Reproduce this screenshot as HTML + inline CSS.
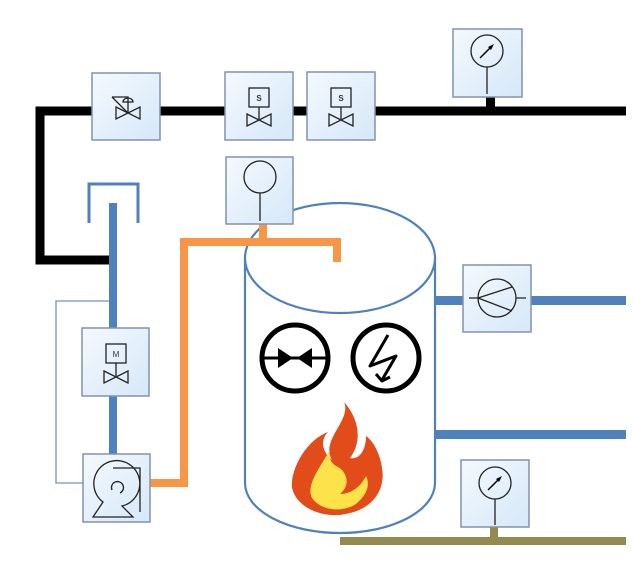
<!DOCTYPE html>
<html><head><meta charset="utf-8"><style>html,body{margin:0;padding:0;background:#fff}svg{display:block}</style></head><body>
<svg width="634" height="563" viewBox="0 0 634 563" xmlns="http://www.w3.org/2000/svg" font-family="Liberation Sans, sans-serif">
<defs>
<linearGradient id="bg" x1="0" y1="0" x2="1" y2="1"><stop offset="0" stop-color="#f4f9fe"/><stop offset="1" stop-color="#d6e8f8"/></linearGradient>
</defs>
<!-- black pipe -->
<path d="M626 111 H40 V260 H112" fill="none" stroke="#000" stroke-width="9"/>
<rect x="486" y="95" width="9" height="14" fill="#000"/>
<!-- blue thin loop -->
<path d="M110 301 H56 V483 H84" fill="none" stroke="#6f94c8" stroke-width="1.3"/>
<!-- blue vertical pipe -->
<rect x="109" y="203" width="8" height="252" fill="#4f81bd"/>
<!-- bracket -->
<path d="M89 223 V184 H138 V223" fill="none" stroke="#4f81bd" stroke-width="3"/>
<!-- orange -->
<path d="M150 483 H184 V242 H337 V262" fill="none" stroke="#f79646" stroke-width="8"/>
<rect x="259" y="222" width="8" height="20" fill="#f79646"/>
<!-- blue right pipes -->
<rect x="436" y="296" width="190" height="9" fill="#4f81bd"/>
<rect x="436" y="430" width="190" height="9" fill="#4f81bd"/>
<!-- olive -->
<rect x="340" y="537" width="286" height="8" fill="#938a4f"/>
<rect x="490" y="525" width="8" height="14" fill="#938a4f"/>
<!-- tank -->
<path d="M245 258 V483 A95 50 0 0 0 435 483 V258" fill="#fff" stroke="#4f81bd" stroke-width="2.2"/>
<ellipse cx="340" cy="258" rx="95" ry="55" fill="#fff" stroke="#4f81bd" stroke-width="2.2"/>
<path d="M180 242 H337 V262" fill="none" stroke="#f79646" stroke-width="8"/>
<rect x="259" y="222" width="8" height="20" fill="#f79646"/>
<!-- tank icons -->
<circle cx="295" cy="358" r="33" fill="none" stroke="#000" stroke-width="5"/>
<line x1="262" y1="358" x2="328" y2="358" stroke="#000" stroke-width="3"/>
<polygon points="278,348 278,368 293,358" fill="#000"/>
<polygon points="312,348 312,368 297,358" fill="#000"/>
<circle cx="386" cy="358" r="33" fill="none" stroke="#000" stroke-width="5"/>
<path d="M388 335 L370 366 L396 356 L382 380 M376 374 L382 381 L390 377" fill="none" stroke="#000" stroke-width="3" stroke-linejoin="round"/>
<!-- flame -->
<path d="M344 402 C352 420 320 440 332 460 C322 452 320 440 328 432 C306 440 290 470 292 488 C298 512 330 518 345 514 C372 510 386 490 382 468 C380 452 372 440 366 436 C366 452 358 460 350 458 C362 442 360 420 344 402 Z" fill="#e24b1a"/>
<path d="M330 450 C318 470 306 486 312 498 C322 512 344 512 356 504 C368 494 370 484 366 476 C360 488 350 494 340 494 C352 484 346 470 336 466 C330 462 328 456 330 450 Z" fill="#fde24a"/>
<!-- boxes -->
<g fill="url(#bg)" stroke="#8392ae" stroke-width="1.5">
<rect x="92" y="73" width="68" height="67"/>
<rect x="225" y="72" width="68" height="68"/>
<rect x="307" y="72" width="68" height="68"/>
<rect x="453" y="29" width="69" height="68"/>
<rect x="226" y="157" width="67" height="67"/>
<rect x="82" y="328" width="67" height="68"/>
<rect x="83" y="454" width="67" height="68"/>
<rect x="463" y="265" width="68" height="67"/>
<rect x="461" y="460" width="68" height="67"/>
</g>
<g fill="none" stroke="#222" stroke-width="1.3">
<!-- valve 1 -->
<path d="M116 107 L140 119 L140 107 L116 119 Z"/>
<path d="M112 97 H128 L128 113 M112 97 L128 113"/>
<path d="M123 102 A5 4 0 0 1 133 102 Z"/>
<!-- S valves -->
<rect x="249" y="88" width="20" height="19"/><path d="M259 107 V119 M247 114 L271 126 L271 114 L247 126 Z"/>
<rect x="331" y="88" width="20" height="19"/><path d="M341 107 V119 M329 114 L353 126 L353 114 L329 126 Z"/>
<!-- M valve -->
<rect x="106" y="344" width="20" height="19"/><path d="M116 363 V376 M104 371 L128 383 L128 371 L104 383 Z"/>
<!-- gauges -->
<circle cx="487" cy="51" r="16"/><path d="M487 67 V94"/>
<circle cx="495" cy="483" r="16"/><path d="M495 499 V525"/>
<!-- level -->
<circle cx="260" cy="177" r="16"/><path d="M260 193 V221"/>
<!-- compressor -->
<circle cx="497" cy="298" r="19"/><path d="M469 298 H478 M516 298 H526 M478 298 L512 287 M478 298 L512 311"/>
<!-- pump -->
<path d="M93 517 L103 502 A23 23 0 1 1 122 506 L133 517 Z M113 468 H140 V512"/>
<path d="M112 490 A6 6 0 1 1 120 493"/>
</g>
<g stroke="#000" stroke-width="1.5">
<line x1="480" y1="58" x2="492" y2="46"/><line x1="488" y1="490" x2="500" y2="478"/>
</g>
<polygon points="494,44 488,47 491,50" fill="#000"/>
<polygon points="502,476 496,479 499,482" fill="#000"/>
<g font-size="8" font-weight="bold" fill="#333" text-anchor="middle">
<text x="259" y="101">S</text><text x="341" y="101">S</text><text x="116" y="357" font-weight="normal">M</text>
</g>
</svg>
</body></html>
